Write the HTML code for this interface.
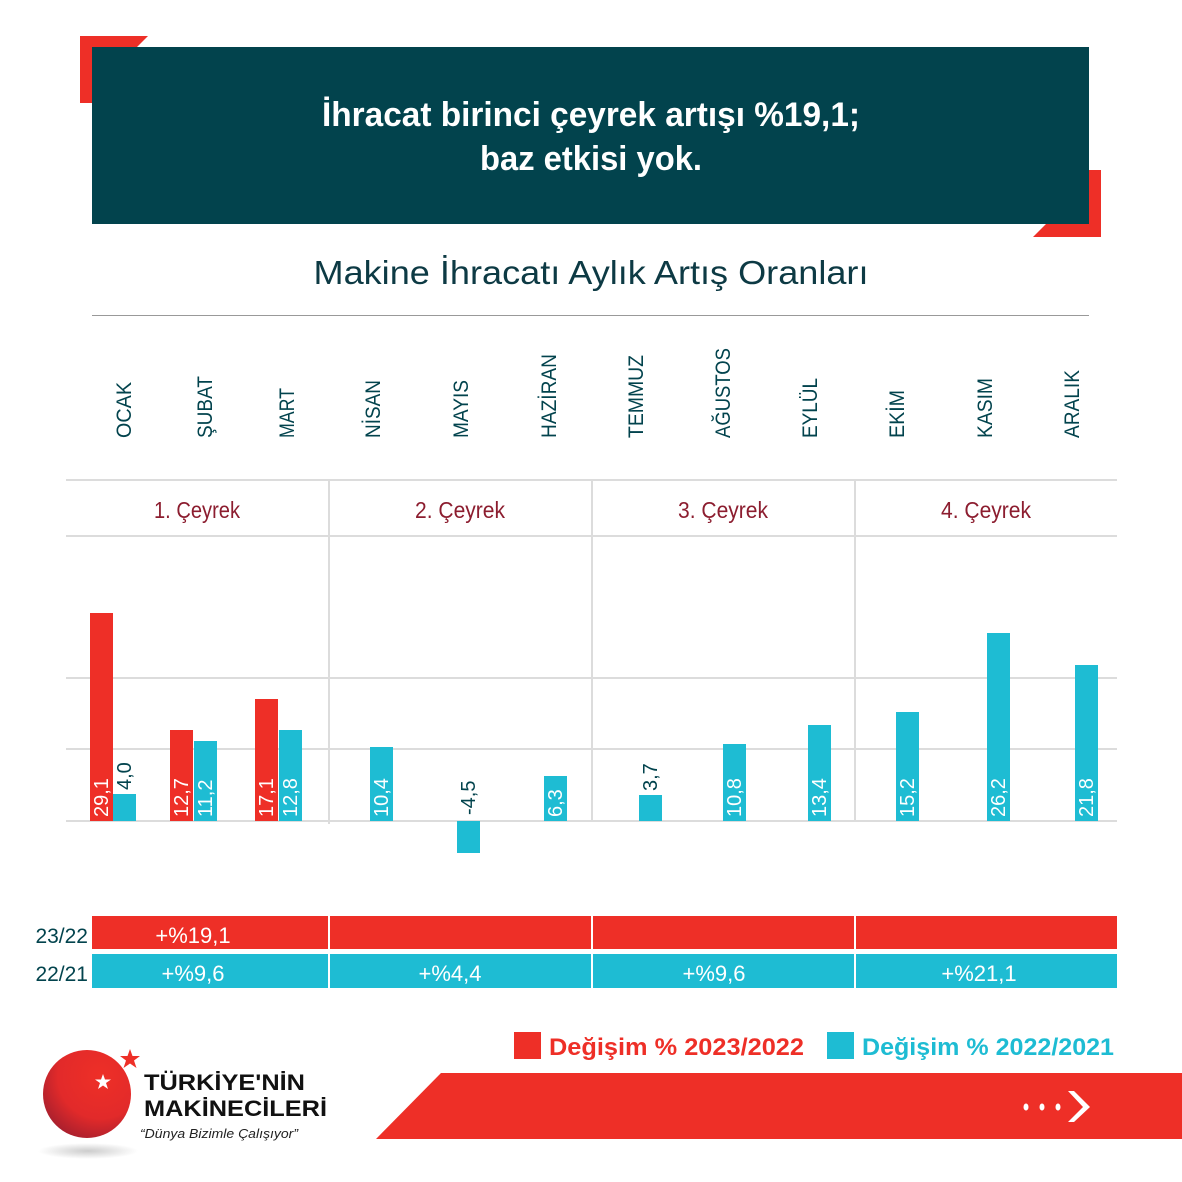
<!DOCTYPE html>
<html><head><meta charset="utf-8"><style>
html,body{margin:0;padding:0;background:#fff}
svg{display:block}
text{font-family:"Liberation Sans","DejaVu Sans",sans-serif}
</style></head><body>
<svg width="1182" height="1182" viewBox="0 0 1182 1182" xmlns="http://www.w3.org/2000/svg">
<polygon points="80,36 148,36 120,64 120,103 80,103" fill="#ee2f27"/>
<polygon points="1101,170 1101,237 1033,237 1062,208 1062,170" fill="#ee2f27"/>
<rect x="92" y="47" width="997" height="177" fill="#02434d"/>
<text x="591" y="126" text-anchor="middle" fill="#fff" font-size="34" font-weight="bold" textLength="538" lengthAdjust="spacingAndGlyphs">İhracat birinci çeyrek artışı %19,1;</text>
<text x="591" y="170" text-anchor="middle" fill="#fff" font-size="34" font-weight="bold" textLength="222" lengthAdjust="spacingAndGlyphs">baz etkisi yok.</text>
<text x="591" y="284" text-anchor="middle" fill="#0d3a44" font-size="33" textLength="555" lengthAdjust="spacingAndGlyphs">Makine İhracatı Aylık Artış Oranları</text>
<line x1="92" y1="315.5" x2="1089" y2="315.5" stroke="#999" stroke-width="1"/>
<g fill="#02434d" font-size="21">
<text transform="translate(131,438) rotate(-90)" textLength="56" lengthAdjust="spacingAndGlyphs">OCAK</text>
<text transform="translate(212,438) rotate(-90)" textLength="62" lengthAdjust="spacingAndGlyphs">ŞUBAT</text>
<text transform="translate(294,438) rotate(-90)" textLength="50" lengthAdjust="spacingAndGlyphs">MART</text>
<text transform="translate(380,438) rotate(-90)" textLength="58" lengthAdjust="spacingAndGlyphs">NİSAN</text>
<text transform="translate(468,438) rotate(-90)" textLength="58" lengthAdjust="spacingAndGlyphs">MAYIS</text>
<text transform="translate(556,438) rotate(-90)" textLength="84" lengthAdjust="spacingAndGlyphs">HAZİRAN</text>
<text transform="translate(643,438) rotate(-90)" textLength="83" lengthAdjust="spacingAndGlyphs">TEMMUZ</text>
<text transform="translate(730,438) rotate(-90)" textLength="90" lengthAdjust="spacingAndGlyphs">AĞUSTOS</text>
<text transform="translate(817,438) rotate(-90)" textLength="60" lengthAdjust="spacingAndGlyphs">EYLÜL</text>
<text transform="translate(904,438) rotate(-90)" textLength="48" lengthAdjust="spacingAndGlyphs">EKİM</text>
<text transform="translate(992,438) rotate(-90)" textLength="60" lengthAdjust="spacingAndGlyphs">KASIM</text>
<text transform="translate(1079,438) rotate(-90)" textLength="68" lengthAdjust="spacingAndGlyphs">ARALIK</text>
</g>
<g stroke="#dcdcdc" stroke-width="2">
<line x1="66" y1="480" x2="1117" y2="480"/>
<line x1="66" y1="536" x2="1117" y2="536"/>
<line x1="66" y1="678" x2="1117" y2="678"/>
<line x1="66" y1="749" x2="1117" y2="749"/>
<line x1="66" y1="821" x2="1117" y2="821"/>
<line x1="329" y1="480" x2="329" y2="824"/>
<line x1="592" y1="480" x2="592" y2="821"/>
<line x1="855" y1="480" x2="855" y2="821"/>
</g>
<g fill="#8c1d2f" font-size="23" text-anchor="middle">
<text x="197" y="518" textLength="86" lengthAdjust="spacingAndGlyphs">1. Çeyrek</text>
<text x="460" y="518" textLength="90" lengthAdjust="spacingAndGlyphs">2. Çeyrek</text>
<text x="723" y="518" textLength="90" lengthAdjust="spacingAndGlyphs">3. Çeyrek</text>
<text x="986" y="518" textLength="90" lengthAdjust="spacingAndGlyphs">4. Çeyrek</text>
</g>
<g fill="#ee2f27">
<rect x="90" y="613" width="23" height="208"/>
<rect x="170" y="730" width="23" height="91"/>
<rect x="255" y="699" width="23" height="122"/>
</g>
<g fill="#1ebcd3">
<rect x="113" y="794" width="23" height="27"/>
<rect x="194" y="741" width="23" height="80"/>
<rect x="279" y="730" width="23" height="91"/>
<rect x="370" y="747" width="23" height="74"/>
<rect x="457" y="821" width="23" height="32"/>
<rect x="544" y="776" width="23" height="45"/>
<rect x="639" y="795" width="23" height="26"/>
<rect x="723" y="744" width="23" height="77"/>
<rect x="808" y="725" width="23" height="96"/>
<rect x="896" y="712" width="23" height="109"/>
<rect x="987" y="633" width="23" height="188"/>
<rect x="1075" y="665" width="23" height="156"/>
</g>
<g fill="#fff" font-size="20">
<text transform="translate(108,817) rotate(-90)">29,1</text>
<text transform="translate(188,817) rotate(-90)">12,7</text>
<text transform="translate(212,817) rotate(-90)">11,2</text>
<text transform="translate(273,817) rotate(-90)">17,1</text>
<text transform="translate(297,817) rotate(-90)">12,8</text>
<text transform="translate(388,817) rotate(-90)">10,4</text>
<text transform="translate(562,817) rotate(-90)">6,3</text>
<text transform="translate(741,817) rotate(-90)">10,8</text>
<text transform="translate(826,817) rotate(-90)">13,4</text>
<text transform="translate(914,817) rotate(-90)">15,2</text>
<text transform="translate(1005,817) rotate(-90)">26,2</text>
<text transform="translate(1093,817) rotate(-90)">21,8</text>
</g>
<g fill="#02434d" font-size="20">
<text transform="translate(131,790) rotate(-90)">4,0</text>
<text transform="translate(475,815) rotate(-90)">-4,5</text>
<text transform="translate(657,791) rotate(-90)">3,7</text>
</g>
<rect x="92" y="916" width="1025" height="33" fill="#ee2f27"/>
<rect x="92" y="954" width="1025" height="34" fill="#1ebcd3"/>
<g stroke="#fff" stroke-width="2">
<line x1="329" y1="916" x2="329" y2="988"/>
<line x1="592" y1="916" x2="592" y2="988"/>
<line x1="855" y1="916" x2="855" y2="988"/>
</g>
<g fill="#02434d" font-size="21" text-anchor="end">
<text x="88" y="943">23/22</text>
<text x="88" y="981">22/21</text>
</g>
<g fill="#fff" font-size="22" text-anchor="middle">
<text x="193" y="943">+%19,1</text>
<text x="193" y="981">+%9,6</text>
<text x="450" y="981">+%4,4</text>
<text x="714" y="981">+%9,6</text>
<text x="979" y="981">+%21,1</text>
</g>
<rect x="514" y="1032" width="27" height="27" fill="#ee2f27"/>
<text x="549" y="1055" fill="#ee2f27" font-size="24" font-weight="bold" textLength="255" lengthAdjust="spacingAndGlyphs">Değişim % 2023/2022</text>
<rect x="827" y="1032" width="27" height="27" fill="#1ebcd3"/>
<text x="862" y="1055" fill="#1ebcd3" font-size="24" font-weight="bold" textLength="252" lengthAdjust="spacingAndGlyphs">Değişim % 2022/2021</text>
<polygon points="441,1073 1182,1073 1182,1139 376,1139" fill="#ee2f27"/>
<g fill="#fff">
<ellipse cx="1026" cy="1107" rx="2.5" ry="3.5"/>
<ellipse cx="1042" cy="1107" rx="2.5" ry="3.5"/>
<ellipse cx="1058" cy="1107" rx="2.5" ry="3.5"/>
<polygon points="1068,1091 1074,1091 1090,1107 1074,1122 1068,1122 1083,1107"/>
</g>
<defs>
<radialGradient id="g" cx="0.65" cy="0.3" r="0.8">
<stop offset="0" stop-color="#ee2f27"/><stop offset="0.6" stop-color="#e22a2a"/><stop offset="1" stop-color="#a01e2e"/>
</radialGradient>
<radialGradient id="sh" cx="0.5" cy="0.5" r="0.5">
<stop offset="0" stop-color="#ccc"/><stop offset="1" stop-color="#fff"/>
</radialGradient>
</defs>
<ellipse cx="88" cy="1151" rx="50" ry="8" fill="url(#sh)"/>
<circle cx="87" cy="1094" r="44" fill="url(#g)"/>
<polygon points="130,1049 132.5,1056 140,1056 134,1060.5 136.5,1068 130,1063.5 123.5,1068 126,1060.5 120,1056 127.5,1056" fill="#ee2f27"/>
<polygon points="103,1074 105,1079.5 111,1079.5 106,1083 108,1089 103,1085.5 98,1089 100,1083 95,1079.5 101,1079.5" fill="#fff"/>
<text x="144" y="1090" fill="#111" font-size="22" font-weight="bold" textLength="161" lengthAdjust="spacingAndGlyphs">TÜRKİYE'NİN</text>
<text x="144" y="1116" fill="#111" font-size="22" font-weight="bold" textLength="183" lengthAdjust="spacingAndGlyphs">MAKİNECİLERİ</text>
<text x="140" y="1138" fill="#222" font-size="13" font-style="italic" textLength="158" lengthAdjust="spacingAndGlyphs">“Dünya Bizimle Çalışıyor”</text>
</svg>
</body></html>
